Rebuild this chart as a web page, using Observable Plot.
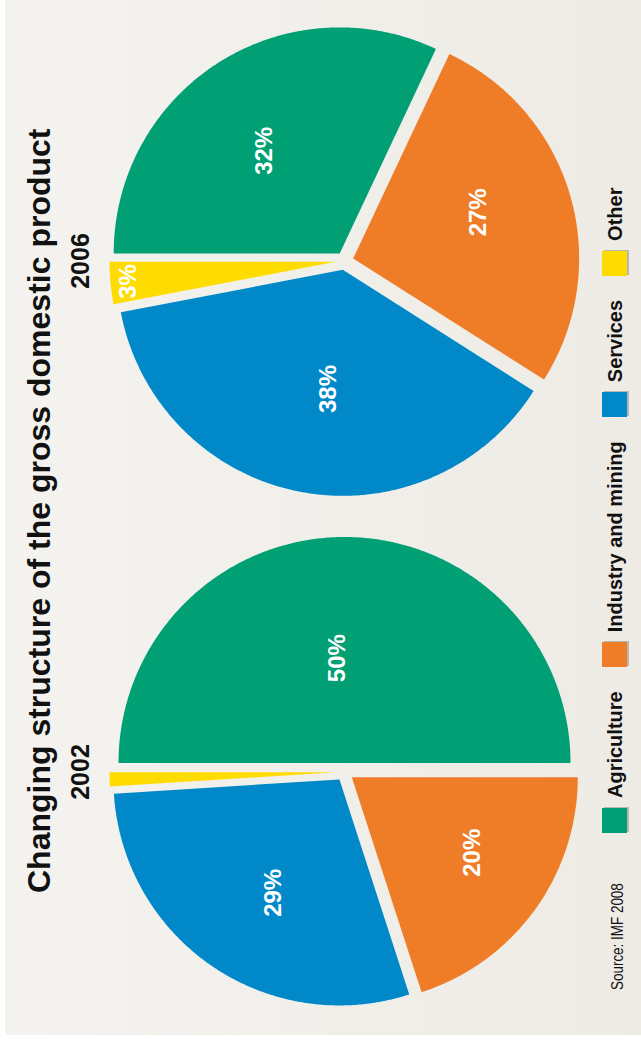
<!DOCTYPE html>
<html>
<head>
<meta charset="utf-8">
<script src="https://cdn.jsdelivr.net/npm/d3@7"></script>
<script src="https://cdn.jsdelivr.net/npm/@observablehq/plot@0.6"></script>
<style>
html, body { margin: 0; padding: 0; width: 641px; height: 1041px; overflow: hidden; background: #ffffff; }
#stage { position: absolute; left: 0; top: 0; width: 1041px; height: 641px; transform-origin: 0 0;
  transform: translate(0, 1041px) rotate(-90deg); font-family: "Liberation Sans", Arial, sans-serif; color: #111; }
#bg { position: absolute; left: 6px; top: 5px; right: 0; bottom: 0; background: linear-gradient(#f4f3ef, #eeebe5); }
#chart { position: absolute; left: 0; top: 0; }
#title { position: absolute; left: 148px; top: 23px; font-size: 32px; font-weight: bold; line-height: 32px; white-space: nowrap; }
#source { position: absolute; left: 51px; top: 610px; font-size: 16px; line-height: 16px; white-space: nowrap;
  transform-origin: 0 0; transform: scaleX(0.84); }
#legend { position: absolute; left: 208px; top: 602px; display: flex; align-items: flex-start; white-space: nowrap; }
.item { display: flex; align-items: flex-start; margin-right: 24px; }
.sw { width: 25px; height: 25px; box-shadow: 1px 2px 0 #b5b5b5; }
.lab { margin-left: 10px; font-size: 20px; font-weight: bold; line-height: 25px; position: relative; top: 1px; }
</style>
</head>
<body>
<div id="stage">
  <div id="bg"></div>
  <div id="chart"></div>
  <div id="title">Changing structure of the gross domestic product</div>
  <div id="legend"></div>
  <div id="source">Source: IMF 2008</div>
</div>
<script>
// ---- data ----
const categories = ["Agriculture", "Industry and mining", "Services", "Other"];
const colors = ["#00a074", "#ef7d27", "#0088c9", "#ffdc00"];
const years = ["2002", "2006"];
const share2002 = [50, 20, 29, 1];
const share2006 = [32, 27, 38, 3];

// ---- geometry (unit-radius pies, exploded slices) ----
const W = 1041, H = 641, ML = 13, MR = 6, MT = 97, MB = 0;
const R = 226;            // pie radius in px
const CY = 344;           // pie centre, px from top
const explode = 9 / R;
const labelTurn = -4 * Math.PI / 180;
const pie = d3.pie().sort(null).value(d => d);
const outline = [];
const labels = [];
years.forEach((year, yi) => {
  const vals = yi === 0 ? share2002 : share2006;
  pie(vals).forEach((a, i) => {
    const category = categories[i];
    const id = year + "-" + category;
    const mid = (a.startAngle + a.endAngle) / 2;
    const ox = explode * Math.sin(mid), oy = explode * Math.cos(mid);
    outline.push({year, id, category, x: ox, y: oy});
    const n = Math.max(2, Math.ceil((a.endAngle - a.startAngle) / (Math.PI / 360)));
    for (let k = 0; k <= n; k++) {
      const t = a.startAngle + (a.endAngle - a.startAngle) * k / n;
      outline.push({year, id, category, x: ox + Math.sin(t), y: oy + Math.cos(t)});
    }
    if (a.value >= 2) {
      const small = a.value < 5;
      const lr = small ? 0.92 : 0.74 - 0.55 * a.value / 100;
      const la = small ? mid : mid + labelTurn;
      labels.push({year, x: ox + lr * Math.sin(la), y: oy + lr * Math.cos(la), text: a.value + "%"});
    }
  });
});

const band = (W - ML - MR) / 2;
const kx = band / 2 / R;

const plot = Plot.plot({
  width: W, height: H,
  marginLeft: ML, marginRight: MR, marginTop: MT, marginBottom: MB,
  style: {background: "transparent", fontFamily: "'Liberation Sans', Arial, sans-serif", overflow: "visible", color: "#111"},
  fx: {domain: years, padding: 0, label: null},
  x: {domain: [-kx, kx], axis: null},
  y: {domain: [-(H - MB - CY) / R, (CY - MT) / R], axis: null},
  color: {domain: categories, range: colors},
  marks: [
    Plot.axisFx({anchor: "top", tickSize: 0, tickPadding: 9, fontSize: 25, fontWeight: "bold", label: null}),
    Plot.line(outline, {fx: "year", x: "x", y: "y", z: "id", fill: "category", stroke: "none", curve: "linear"}),
    Plot.text(labels, {fx: "year", x: "x", y: "y", text: "text", fill: "white", fontSize: 24, fontWeight: "bold"})
  ]
});
document.getElementById("chart").appendChild(plot);

// ---- legend ----
const legend = document.getElementById("legend");
categories.forEach((c, i) => {
  const item = document.createElement("div");
  item.className = "item";
  const sw = document.createElement("div");
  sw.className = "sw";
  sw.style.background = colors[i];
  const lab = document.createElement("div");
  lab.className = "lab";
  lab.textContent = c;
  item.appendChild(sw);
  item.appendChild(lab);
  legend.appendChild(item);
});
</script>
</body>
</html>
